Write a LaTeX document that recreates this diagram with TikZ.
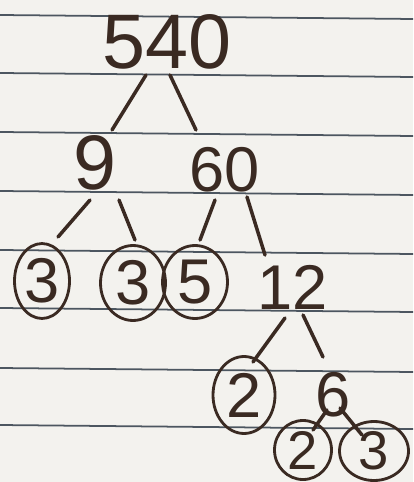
\documentclass[tikz,border=0pt]{standalone}
\usepackage{fontspec}
\setmainfont{Liberation Sans}
\usetikzlibrary{shapes.geometric,calc}

\definecolor{ink}{HTML}{3A2A22}
\definecolor{paper}{HTML}{F3F2EE}
\definecolor{rule}{HTML}{4C5660}

\tikzset{
  big/.style={ink,inner sep=0pt,font=\fontsize{44}{48}\selectfont},
  small/.style={ink,inner sep=0pt,font=\fontsize{36}{40}\selectfont},
  circled/.style={small,ellipse,draw=ink,line width=1.6pt},
  tiny/.style={font=\fontsize{31}{34}\selectfont},
  branch/.style={ink,line width=2pt,line cap=round}
}

\begin{document}
\begin{tikzpicture}[x=0.02cm,y=-0.02cm]

  \fill[paper] (0,0) rectangle (413,482);
  \useasboundingbox (0,0) rectangle (413,482);
  \clip (0,0) rectangle (413,482);

  % ruled lines of the notebook
  \foreach \y in {15,73,132,191,250,308,368,425}
  {
    \draw[rule,line width=1pt] (0,\y) -- (413,\y+4);
  }

  \node[big] (n540) at (167,42) {540};

  \node[big] (n9) at (95,163) {9};
  \node[small] (n60) at (225,170) {60};

  \node[circled,minimum width=1.1cm,minimum height=1.5cm] (n3a) at (42,281) {3};
  \node[circled,minimum width=1.3cm,minimum height=1.5cm] (n3b) at (133,283) {3};
  \node[circled,minimum width=1.3cm,minimum height=1.46cm] (n5) at (195,282) {5};
  \node[small] (n12) at (293,287) {12};

  \node[circled,minimum width=1.24cm,minimum height=1.54cm] (n2a) at (244,395) {2};
  \node[small] (n6) at (333,395) {6};

  \node[circled,tiny,minimum width=1.14cm,minimum height=1.18cm] (n2b) at (303,450) {2};
  \node[circled,tiny,minimum width=1.38cm,minimum height=1.18cm] (n3c) at (374,451) {3};

  \draw[branch] ($(n540)+(-21,33)$) -- ($(n9)+(17,-33)$);
  \draw[branch] ($(n540)+(3,33)$) -- ($(n60)+(-29,-40)$);
  \draw[branch] ($(n9)+(-5,37)$) -- ($(n3a)+(16,-44)$);
  \draw[branch] ($(n9)+(24,37)$) -- ($(n3b)+(2,-43)$);
  \draw[branch] ($(n60)+(-10,30)$) -- ($(n5)+(5,-42)$);
  \draw[branch] ($(n60)+(22,27)$) -- ($(n12)+(-28,-32)$);
  \draw[branch] ($(n12)+(-8,31)$) -- ($(n2a)+(9,-33)$);
  \draw[branch] ($(n12)+(10,28)$) -- ($(n6)+(-10,-38)$);
  \draw[branch] ($(n6)+(-6,15)$) -- ($(n2b)+(10,-20)$);
  \draw[branch] ($(n6)+(7,13)$) -- ($(n3c)+(-12,-16)$);

\end{tikzpicture}
\end{document}
